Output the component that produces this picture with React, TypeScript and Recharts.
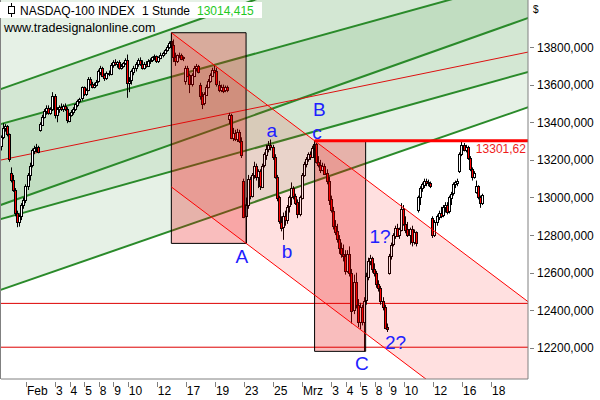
import { Area, Bar, ComposedChart, Line, ReferenceArea, Scatter, XAxis, YAxis } from "recharts";

const FONT = '"Liberation Sans", Arial, sans-serif';

// hourly NASDAQ-100 bars, 7 per trading day, first visible bar has index 2
const firstBar = 2;
// [open, high, low, close]
const candles: number[][] = [
  // Jan 28
  [13270, 13330, 13250, 13320], [13320, 13395, 13310, 13370], [13370, 13390, 13350, 13380], [13380, 13385, 13325, 13335], [13335, 13340, 13190, 13200],
  // Jan 29
  [13130, 13160, 13080, 13095], [13095, 13120, 13030, 13040], [13040, 13050, 12900, 12920], [12920, 12930, 12842, 12870], [12870, 12910, 12845, 12900], [12900, 12970, 12880, 12960], [12960, 13000, 12940, 12985],
  // Feb 1
  [12985, 13070, 12970, 13060], [13060, 13130, 13040, 13120], [13120, 13185, 13090, 13170], [13170, 13260, 13160, 13250], [13250, 13275, 13230, 13265], [13265, 13285, 13240, 13270], [13270, 13275, 13235, 13245],
  // Feb 2
  [13360, 13400, 13350, 13390], [13390, 13440, 13380, 13430], [13430, 13470, 13420, 13460], [13460, 13490, 13440, 13475], [13475, 13490, 13440, 13450], [13450, 13480, 13440, 13470], [13470, 13560, 13460, 13540],
  // Feb 3
  [13540, 13550, 13420, 13440], [13440, 13480, 13400, 13470], [13470, 13490, 13450, 13480], [13480, 13500, 13460, 13470], [13470, 13495, 13455, 13485], [13485, 13500, 13460, 13470], [13470, 13480, 13395, 13410],
  // Feb 4
  [13410, 13450, 13400, 13440], [13440, 13465, 13430, 13455], [13455, 13480, 13440, 13470], [13470, 13500, 13460, 13495], [13495, 13520, 13480, 13515], [13515, 13530, 13500, 13525], [13525, 13590, 13515, 13585],
  // Feb 5
  [13585, 13590, 13540, 13550], [13550, 13580, 13540, 13570], [13570, 13640, 13565, 13630], [13630, 13640, 13595, 13605], [13605, 13615, 13580, 13590], [13590, 13610, 13580, 13600], [13600, 13625, 13590, 13615],
  // Feb 8
  [13615, 13680, 13610, 13670], [13670, 13700, 13650, 13690], [13690, 13695, 13640, 13650], [13650, 13660, 13620, 13635], [13635, 13670, 13625, 13660], [13660, 13675, 13645, 13655], [13655, 13715, 13650, 13705],
  // Feb 9
  [13705, 13730, 13690, 13720], [13720, 13735, 13700, 13710], [13710, 13725, 13690, 13720], [13720, 13730, 13680, 13690], [13690, 13710, 13680, 13700], [13700, 13720, 13690, 13715], [13715, 13740, 13705, 13730],
  // Feb 10
  [13730, 13760, 13530, 13610], [13610, 13640, 13560, 13620], [13620, 13680, 13600, 13670], [13670, 13700, 13650, 13690], [13690, 13720, 13670, 13710], [13710, 13740, 13695, 13730], [13730, 13745, 13700, 13710],
  // Feb 11
  [13710, 13730, 13680, 13690], [13690, 13720, 13680, 13710], [13710, 13725, 13690, 13700], [13700, 13735, 13695, 13725], [13725, 13740, 13710, 13730], [13730, 13750, 13720, 13745], [13745, 13760, 13730, 13750],
  // Feb 12
  [13750, 13755, 13715, 13725], [13725, 13750, 13715, 13745], [13745, 13770, 13735, 13760], [13760, 13775, 13745, 13770], [13770, 13790, 13760, 13785], [13785, 13810, 13775, 13800], [13800, 13830, 13790, 13820],
  // Feb 16
  [13830, 13876, 13790, 13810], [13810, 13840, 13720, 13745], [13745, 13770, 13700, 13725], [13725, 13760, 13715, 13755], [13755, 13770, 13740, 13760], [13760, 13765, 13730, 13740], [13740, 13750, 13725, 13745],
  // Feb 17
  [13620, 13700, 13600, 13690], [13690, 13700, 13640, 13650], [13650, 13660, 13555, 13600], [13600, 13660, 13590, 13650], [13650, 13700, 13640, 13690], [13690, 13710, 13670, 13700], [13700, 13705, 13660, 13670],
  // Feb 18
  [13600, 13610, 13520, 13540], [13540, 13560, 13470, 13500], [13500, 13560, 13490, 13550], [13550, 13600, 13540, 13590], [13590, 13630, 13580, 13620], [13620, 13660, 13610, 13650], [13650, 13690, 13640, 13680],
  // Feb 19
  [13680, 13705, 13660, 13670], [13670, 13690, 13590, 13600], [13600, 13620, 13560, 13575], [13575, 13600, 13560, 13590], [13590, 13600, 13555, 13570], [13570, 13595, 13560, 13585], [13585, 13595, 13560, 13570],
  // Feb 22
  [13420, 13450, 13390, 13440], [13440, 13445, 13310, 13320], [13320, 13370, 13300, 13345], [13345, 13360, 13300, 13315], [13315, 13365, 13295, 13350], [13350, 13360, 13290, 13300], [13300, 13320, 13210, 13225],
  // Feb 23
  [13090, 13100, 12890, 12900], [12900, 13000, 12756, 12960], [12960, 13120, 12940, 13100], [13100, 13110, 12990, 13010], [13010, 13130, 13000, 13120], [13120, 13190, 13100, 13170], [13170, 13180, 13090, 13110],
  // Feb 24
  [13110, 13150, 13050, 13140], [13140, 13150, 13040, 13060], [13060, 13180, 13050, 13170], [13170, 13240, 13160, 13230], [13230, 13280, 13200, 13260], [13260, 13300, 13240, 13280], [13280, 13308, 13250, 13270],
  // Feb 25
  [13270, 13280, 13200, 13215], [13215, 13230, 13100, 13110], [13110, 13120, 12980, 13000], [13000, 13010, 12860, 12870], [12870, 12900, 12820, 12840], [12840, 12920, 12775, 12900], [12900, 12930, 12850, 12880],
  // Feb 26
  [12880, 12960, 12860, 12950], [12950, 13010, 12920, 13000], [13000, 13080, 12960, 13050], [13050, 13060, 12990, 13010], [13010, 13020, 12960, 12975], [12975, 12990, 12890, 12910], [12910, 13010, 12900, 13000],
  // Mar 1
  [13000, 13130, 12990, 13120], [13120, 13190, 13110, 13180], [13180, 13215, 13160, 13205], [13205, 13240, 13190, 13230], [13230, 13245, 13200, 13215], [13215, 13275, 13210, 13265], [13265, 13301.62, 13250, 13285],
  // Mar 2
  [13285, 13290, 13180, 13190], [13190, 13220, 13160, 13175], [13175, 13200, 13130, 13150], [13150, 13185, 13140, 13170], [13170, 13180, 13120, 13130], [13130, 13150, 13070, 13090], [13090, 13110, 12960, 12990],
  // Mar 3
  [12990, 13010, 12920, 12930], [12930, 12950, 12830, 12850], [12850, 12880, 12800, 12820], [12820, 12860, 12760, 12780], [12780, 12800, 12700, 12730], [12730, 12760, 12680, 12700], [12700, 12750, 12660, 12690],
  // Mar 4
  [12690, 12720, 12590, 12610], [12610, 12720, 12600, 12700], [12700, 12740, 12580, 12600], [12600, 12620, 12330, 12400], [12400, 12590, 12380, 12550], [12550, 12600, 12410, 12430], [12430, 12460, 12310, 12340],
  // Mar 5
  [12340, 12440, 12300, 12420], [12420, 12430, 12320, 12340], [12340, 12470, 12182, 12450], [12450, 12600, 12430, 12580], [12580, 12680, 12560, 12665], [12665, 12695, 12640, 12680], [12680, 12685, 12600, 12620],
  // Mar 8
  [12620, 12650, 12580, 12600], [12600, 12610, 12520, 12540], [12540, 12560, 12500, 12520], [12520, 12530, 12430, 12450], [12450, 12470, 12400, 12420], [12420, 12430, 12300, 12310], [12310, 12330, 12285, 12300],
  // Mar 9
  [12600, 12700, 12590, 12690], [12690, 12760, 12670, 12750], [12750, 12810, 12740, 12800], [12800, 12850, 12780, 12840], [12840, 12860, 12790, 12800], [12800, 12840, 12780, 12830], [12830, 12970, 12820, 12940],
  // Mar 10
  [12940, 12960, 12850, 12860], [12860, 12900, 12810, 12830], [12830, 12870, 12790, 12800], [12800, 12840, 12750, 12830], [12830, 12850, 12740, 12760], [12760, 12830, 12750, 12815], [12815, 12820, 12740, 12755],
  // Mar 11
  [12930, 13010, 12920, 13000], [13000, 13060, 12960, 13050], [13050, 13080, 13030, 13070], [13070, 13100, 13050, 13090], [13090, 13100, 13060, 13080], [13080, 13095, 13060, 13075], [13075, 13085, 13050, 13060],
  // Mar 12
  [12890, 12900, 12785, 12800], [12800, 12880, 12790, 12870], [12870, 12910, 12850, 12900], [12900, 12930, 12880, 12920], [12920, 12950, 12890, 12905], [12905, 12960, 12895, 12950], [12950, 12975, 12920, 12960],
  // Mar 15
  [12960, 12975, 12910, 12925], [12925, 13010, 12915, 13000], [13000, 13030, 12960, 13020], [13020, 13080, 13010, 13070], [13070, 13090, 13050, 13080], [13080, 13100, 13060, 13090], [13140, 13240, 13130, 13230],
  // Mar 16
  [13230, 13295, 13220, 13280], [13280, 13290, 13245, 13255], [13255, 13280, 13240, 13270], [13270, 13275, 13200, 13210], [13210, 13220, 13140, 13150], [13150, 13160, 13090, 13110], [13110, 13140, 13100, 13130],
  // Mar 17
  [13030, 13090, 13020, 13060], [13060, 13065, 12990, 13000], [13000, 13010, 12945, 12970], [12970, 13020, 12960, 13014.415],
];

// trading day numbers (day 0 = Jan 28) that carry an axis label
const tickDays = [2, 4, 5, 6, 7, 8, 9, 11, 13, 15, 17, 19, 21, 23, 24, 25, 26, 27, 28, 30, 32, 34];
const tickLabels = ["Feb", "3", "4", "5", "8", "9", "10", "12", "17", "19", "23", "25", "Mrz", "3", "4", "5", "8", "9", "10", "12", "16", "18"];
const priceTicks = [12200, 12400, 12600, 12800, 13000, 13200, 13400, 13600, 13800];

const lastPrice = 13014.415;
const resistance = 13301.62;
const supportLevels = [12437, 12204];

// rising channels: value at bar 0 and at bar 258
const lineEnds = [0, 258];
const outerChannel = [
  [13569, 14571],
  [12953, 13963],
  [12502, 13488],
];
const innerChannel = [
  [13385, 14173],
  [12880, 13674],
];
const midLine = [13195, 13778];
const fillTop = [14600, 14600];

// falling channel: top line through the Feb 16 high and c, lower line parallel through A
const fallEnds = [84, 258];
const fallTop = [13876, 12428];
const fallBottom = [13056, 11607];

const boxes = [
  { x1: 84, x2: 120, y1: 12756, y2: 13876 },
  { x1: 153, x2: 177.6, y1: 12182, y2: resistance },
];

const waveLabels = [
  { x: 118, y: 12651, text: "A" },
  { x: 155.3, y: 13431, text: "B" },
  { x: 175.8, y: 12083, text: "C" },
  { x: 132.4, y: 13320, text: "a" },
  { x: 139.7, y: 12678, text: "b" },
  { x: 154.2, y: 13312, text: "c" },
  { x: 184.5, y: 12757, text: "1?" },
  { x: 192, y: 12195, text: "2?" },
];
const levelLabel = [{ x: 254.8, y: 13236, text: "13301,62" }];

const candleData = candles.map(([o, h, l, c], k) => ({ x: firstBar + k, o, h, l, c }));
const seg = (xs: number[], vs: number[]) => xs.map((x, k) => ({ x, v: vs[k] }));
const band = (xs: number[], lo: number[], hi: number[]) => xs.map((x, k) => ({ x, v: [lo[k], hi[k]] }));
const fmt = (v: number, d: number) => v.toFixed(d).replace(".", ",");

function Candle(props: any) {
  const { x, y, width, height, payload } = props;
  if (!payload || height == null) return <g />;
  const { o, h, l, c } = payload;
  const top = Math.min(y, y + height);
  const span = Math.abs(height);
  const k = span / (h - l);
  const yo = top + (h - o) * k;
  const yc = top + (h - c) * k;
  const cx = Math.floor(x + width / 2) + 0.5;
  const bodyTop = Math.round(Math.min(yo, yc)) + 0.5;
  const bodyH = Math.max(1, Math.round(Math.abs(yc - yo)));
  return (
    <g>
      <line x1={cx} x2={cx} y1={top} y2={top + span} stroke="#000" />
      <rect x={cx - 1} y={bodyTop} width={2} height={bodyH} fill={c >= o ? "#fff" : "#ff0000"} stroke="#000" />
    </g>
  );
}

function XTick({ x, y, index }: any) {
  return (
    <g>
      <line x1={Math.round(x) + 0.5} x2={Math.round(x) + 0.5} y1={y + 3} y2={y + 8} stroke="#808080" />
      <text x={x + 1} y={y + 16} fontSize={12} fontFamily={FONT} fill="#000" textAnchor="start">
        {tickLabels[index]}
      </text>
    </g>
  );
}

function YTick({ x, y, payload }: any) {
  return (
    <g>
      <line x1={x + 2} x2={x + 6} y1={Math.round(y) + 0.5} y2={Math.round(y) + 0.5} stroke="#808080" />
      <text x={x + 9} y={y + 4.5} fontSize={12} fontFamily={FONT} fill="#000">
        {fmt(payload.value, 3)}
      </text>
    </g>
  );
}

function WaveLabel({ cx, cy, payload }: any) {
  return (
    <text x={cx} y={cy} textAnchor="middle" fontSize={19} fontFamily={FONT} fill="#2020ff">
      {payload.text}
    </text>
  );
}

function LevelLabel({ cx, cy, payload }: any) {
  return (
    <text x={cx} y={cy} textAnchor="end" fontSize={12} fontFamily={FONT} fill="#ee1c1c">
      {payload.text}
    </text>
  );
}

const noDots = { dot: false, activeDot: false, isAnimationActive: false, legendType: "none" as const };

export default function App() {
  return (
    <div style={{ position: "absolute", left: 0, top: 0, width: 600, height: 400, background: "#fff" }}>
      <ComposedChart width={600} height={400} data={candleData} margin={{ top: 0, right: 0, bottom: 0, left: 1 }}>
        <XAxis
          dataKey="x"
          type="number"
          domain={[1.956, 255.8]}
          allowDataOverflow
          ticks={tickDays.map((d) => d * 7)}
          interval={0}
          tick={<XTick />}
          tickLine={false}
          tickSize={0}
          tickMargin={0}
          height={21}
          axisLine={{ stroke: "#808080" }}
        />
        <YAxis
          orientation="right"
          type="number"
          domain={[12035, 14050]}
          allowDataOverflow
          ticks={priceTicks}
          interval={0}
          width={72}
          tick={<YTick />}
          tickLine={false}
          tickSize={0}
          tickMargin={0}
          axisLine={{ stroke: "#808080" }}
        />

        <Area data={band(lineEnds, outerChannel[2], fillTop)} dataKey="v" type="linear" fill="#e6f1e6" fillOpacity={1} stroke="none" zIndex={101} {...noDots} />
        <Area data={band(lineEnds, innerChannel[1], outerChannel[0])} dataKey="v" type="linear" fill="#d3e7d3" fillOpacity={1} stroke="none" zIndex={102} {...noDots} />
        <Area data={band(lineEnds, outerChannel[1], innerChannel[0])} dataKey="v" type="linear" fill="#c1ddc1" fillOpacity={1} stroke="none" zIndex={103} {...noDots} />

        {[...outerChannel, ...innerChannel].map((vs, k) => (
          <Line key={`g${k}`} data={seg(lineEnds, vs)} dataKey="v" type="linear" stroke="#2a8a2a" strokeWidth={2} zIndex={104} {...noDots} />
        ))}
        <Line data={seg(lineEnds, midLine)} dataKey="v" type="linear" stroke="#dd1111" strokeWidth={1} zIndex={105} {...noDots} />
        {supportLevels.map((v, k) => (
          <Line key={`s${k}`} data={seg(lineEnds, [v, v])} dataKey="v" type="linear" stroke="#dd0000" strokeWidth={1} zIndex={106} {...noDots} />
        ))}

        <Bar dataKey={(d: any) => [d.l, d.h]} barSize={2} shape={<Candle />} isAnimationActive={false} zIndex={107} legendType="none" />

        <Area data={band(fallEnds, fallBottom, fallTop)} dataKey="v" type="linear" fill="#ff0000" fillOpacity={0.12} stroke="none" zIndex={108} {...noDots} />
        {boxes.map((b, k) => (
          <ReferenceArea key={`b${k}`} x1={b.x1} x2={b.x2} y1={b.y1} y2={b.y2} fill="#e60000" fillOpacity={0.26} stroke="#000" strokeWidth={1} strokeOpacity={1} zIndex={109} />
        ))}
        <Line data={seg(fallEnds, fallTop)} dataKey="v" type="linear" stroke="#ff0000" strokeWidth={1} zIndex={110} {...noDots} />
        <Line data={seg(fallEnds, fallBottom)} dataKey="v" type="linear" stroke="#ff0000" strokeWidth={1} zIndex={110} {...noDots} />
        <Line data={seg([boxes[1].x1, 258], [resistance, resistance])} dataKey="v" type="linear" stroke="#ff0000" strokeWidth={3} zIndex={111} {...noDots} />

        <Scatter data={waveLabels} dataKey="y" shape={<WaveLabel />} isAnimationActive={false} zIndex={112} legendType="none" />
        <Scatter data={levelLabel} dataKey="y" shape={<LevelLabel />} isAnimationActive={false} zIndex={112} legendType="none" />
      </ComposedChart>

      <svg width={600} height={400} style={{ position: "absolute", left: 0, top: 0, pointerEvents: "none" }} fontFamily={FONT}>
        <line x1={0.5} y1={0} x2={0.5} y2={379} stroke="#808080" />
        <rect x={0} y={2} width={262} height={16} fill="#fff" />
        <line x1={11.5} y1={3} x2={11.5} y2={17} stroke="#000" />
        <rect x={8.5} y={6.5} width={6} height={7} fill="#fff" stroke="#000" />
        <text x={20} y={15} fontSize={12} fill="#000">NASDAQ-100 INDEX</text>
        <text x={142} y={15} fontSize={12} fill="#000">1 Stunde</text>
        <text x={197} y={15} fontSize={12} fill="#22c922">{fmt(lastPrice, 3)}</text>
        <text x={4} y={32} fontSize={12.5} fill="#000">www.tradesignalonline.com</text>
        <text x={533} y={13} fontSize={10} fill="#000">$</text>
      </svg>
    </div>
  );
}
